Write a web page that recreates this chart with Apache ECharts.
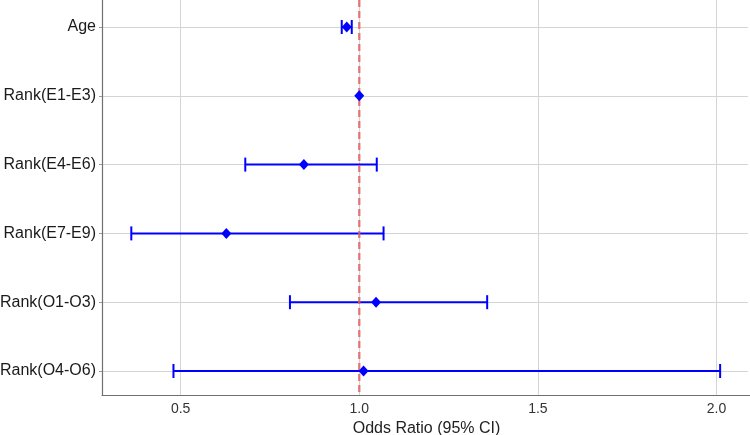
<!DOCTYPE html>
<html><head><meta charset="utf-8">
<script src="https://cdn.jsdelivr.net/npm/echarts@6/dist/echarts.min.js"></script>
<style>html,body{margin:0;padding:0;background:#fff}#c{width:750px;height:435px}</style>
</head><body><div id="c"></div>
<script>
const categories = ['Age', 'Rank(E1-E3)', 'Rank(E4-E6)', 'Rank(E7-E9)', 'Rank(O1-O3)', 'Rank(O4-O6)'];
const oddsRatio = [0.965, 1.0, 0.845, 0.628, 1.047, 1.012];
const ciLower = [0.951, null, 0.681, 0.362, 0.806, 0.480];
const ciUpper = [0.979, null, 1.049, 1.068, 1.358, 2.010];
const refValue = [1];
const xTicks = [0.5, 1.0, 1.5, 2.0];
const xTitle = 'Odds Ratio (95% CI)';

const LEFT = 102, RIGHT_A = 2, RIGHT_B = -1, W = 750;
const X_MIN = 0.28, X_MAX = 2.088;
const X_MAX_B = X_MIN + (X_MAX - X_MIN) * (W - LEFT - RIGHT_B) / (W - LEFT - RIGHT_A);
const FONT = '"Liberation Sans", Arial, Helvetica, sans-serif';
const GRID_COLOR = '#d4d4d4';
const AXIS_COLOR = '#707070';

const chart = echarts.init(document.getElementById('c'), null, {renderer: 'canvas'});

const errData = [];
categories.forEach((c, i) => {
  if (ciLower[i] != null && ciUpper[i] != null) errData.push([ciLower[i], ciUpper[i], i]);
});

chart.setOption({
  animation: false,
  backgroundColor: '#ffffff',
  grid: [
    {left: LEFT, right: RIGHT_A, top: 27, bottom: 64, containLabel: false, outerBoundsMode: 'none'},
    {left: LEFT, right: RIGHT_B, top: 0, bottom: 40, containLabel: false, outerBoundsMode: 'none'}
  ],
  xAxis: [
    {gridIndex: 0, type: 'value', min: X_MIN, max: X_MAX, show: false},
    {
      gridIndex: 1, type: 'value', min: X_MIN, max: X_MAX_B,
      splitNumber: 4, minInterval: 0.5, maxInterval: 0.5,
      axisLine: {show: true, onZero: false, lineStyle: {color: AXIS_COLOR, width: 1.2}},
      axisTick: {show: false},
      axisLabel: {
        showMinLabel: false, showMaxLabel: false,
        fontFamily: FONT, fontSize: 14, color: '#333', margin: 7,
        formatter: v => (xTicks.indexOf(Number(v.toFixed(3))) >= 0 ? Number(v).toFixed(1) : '')
      },
      splitLine: {show: true, lineStyle: {color: GRID_COLOR, width: 1}},
      name: xTitle, nameLocation: 'middle', nameGap: 19,
      nameTextStyle: {fontFamily: FONT, fontSize: 16, color: '#222'}
    }
  ],
  yAxis: [
    {
      gridIndex: 0, type: 'category', data: categories, inverse: true, boundaryGap: false,
      axisLine: {show: false},
      axisTick: {show: true, length: 3, lineStyle: {color: '#999'}},
      axisLabel: {fontFamily: FONT, fontSize: 16, color: '#1a1a1a', margin: 6},
      splitLine: {show: true, lineStyle: {color: GRID_COLOR, width: 1}}
    },
    {
      gridIndex: 1, type: 'value', min: 0, max: 1,
      axisLine: {show: true, onZero: false, lineStyle: {color: AXIS_COLOR, width: 1.2}},
      axisTick: {show: false}, axisLabel: {show: false}, splitLine: {show: false}
    }
  ],
  series: [
    {
      type: 'custom', xAxisIndex: 0, yAxisIndex: 0, z: 2,
      data: errData,
      encode: {x: [0, 1], y: 2},
      renderItem: function (params, api) {
        const lo = api.coord([api.value(0), api.value(2)]);
        const hi = api.coord([api.value(1), api.value(2)]);
        const h = 7;
        const st = {stroke: '#0000FF', lineWidth: 2};
        return {
          type: 'group',
          children: [
            {type: 'line', shape: {x1: lo[0], y1: lo[1], x2: hi[0], y2: hi[1]}, style: st},
            {type: 'line', shape: {x1: lo[0], y1: lo[1] - h, x2: lo[0], y2: lo[1] + h}, style: st},
            {type: 'line', shape: {x1: hi[0], y1: hi[1] - h, x2: hi[0], y2: hi[1] + h}, style: st}
          ]
        };
      }
    },
    {
      type: 'custom', xAxisIndex: 1, yAxisIndex: 1, z: 3,
      data: refValue.map(v => [v, 0]),
      encode: {x: 0, y: 1},
      renderItem: function (params, api) {
        const x = api.coord([api.value(0), 0])[0];
        const cs = params.coordSys;
        return {
          type: 'line',
          shape: {x1: x, y1: cs.y, x2: x, y2: cs.y + cs.height},
          style: {stroke: 'rgba(224,96,96,0.8)', lineWidth: 2.4, lineDash: [7, 4]}
        };
      }
    },
    {
      type: 'scatter', xAxisIndex: 0, yAxisIndex: 0, z: 4,
      symbol: 'diamond', symbolSize: [10, 11],
      itemStyle: {color: '#0000FF', opacity: 1},
      data: categories.map((c, i) => [oddsRatio[i], i])
    }
  ]
});
</script>
</body></html>
